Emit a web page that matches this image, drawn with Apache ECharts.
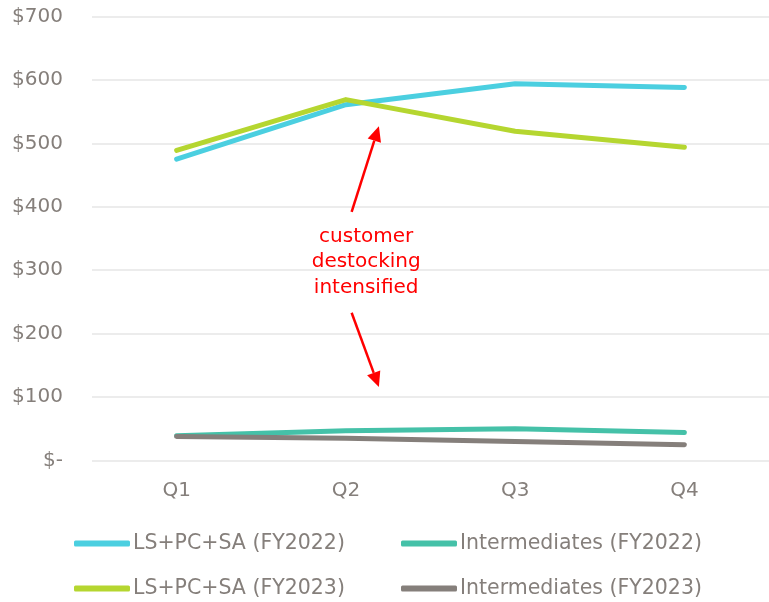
<!DOCTYPE html>
<html><head><meta charset="utf-8">
<script src="https://cdn.jsdelivr.net/npm/echarts@6/dist/echarts.min.js"></script>
<style>html,body{margin:0;padding:0;background:#fff}#c{width:769px;height:602px}</style>
</head><body><div id="c"></div>
<script>
const categories = ['Q1','Q2','Q3','Q4'];
const lsFY2022 = [475, 561, 594, 588];
const lsFY2023 = [489, 569, 519, 494];
const intFY2022 = [39, 47, 50, 44];
const intFY2023 = [38, 35, 30, 25];
const yTicks = [0, 100, 200, 300, 400, 500, 600, 700];
const names = ['LS+PC+SA (FY2022)','Intermediates (FY2022)','LS+PC+SA (FY2023)','Intermediates (FY2023)'];
const colors = ['#4BCFE0','#45C1A8','#B5D630','#857F7B'];
const values = [lsFY2022, intFY2022, lsFY2023, intFY2023];
// annotation anchors in data units [category position, value]
const arrowUp = [[1.034, 392], [1.195, 527]];
const arrowDown = [[1.034, 233], [1.195, 116]];
const noteAt = [1.12, 313];
const note = 'customer\ndestocking\nintensified';

const font = 'DejaVu Sans';
const chart = echarts.init(document.getElementById('c'));
const legendPos = [[74,533],[401,533],[74,578],[401,578]];
chart.setOption({
  animation:false,
  grid:{left:92,right:-4,top:16.5,bottom:141.5},
  xAxis:{type:'category',data:categories,boundaryGap:true,
    axisLine:{show:false},axisTick:{show:false},
    axisLabel:{color:'#857F7B',fontSize:20,fontFamily:font,margin:20}},
  yAxis:{type:'value',min:yTicks[0],max:yTicks[yTicks.length-1],interval:100,
    axisLine:{show:false},axisTick:{show:false},
    splitLine:{lineStyle:{color:'#E6E6E6',width:1.5}},
    axisLabel:{color:'#857F7B',fontSize:20,fontFamily:font,margin:29,
      formatter:v=>v===0?'$-':'$'+v}},
  legend: legendPos.map((p,i)=>({data:[names[i]],left:p[0],top:p[1],
    icon:'roundRect',itemWidth:56,itemHeight:6,itemGap:0,padding:0,
    textStyle:{color:'#857F7B',fontSize:20.5,fontFamily:font,padding:[0,0,0,-2]}})),
  series: names.map((n,i)=>({name:n,type:'line',data:values[i],showSymbol:false,symbol:'none',
    color:colors[i],lineStyle:{width:5,cap:'round',join:'round',color:colors[i]},
    z: i===1||i===3 ? 2 : 3}))
});
function px(p){
  const i0=Math.floor(p[0]), f=p[0]-i0;
  const a=chart.convertToPixel({xAxisIndex:0,yAxisIndex:0},[i0,p[1]]);
  const b=chart.convertToPixel({xAxisIndex:0,yAxisIndex:0},[i0+1,p[1]]);
  return [a[0]+(b[0]-a[0])*f, a[1]];
}
function arrow(a){
  const s=px(a[0]), e=px(a[1]);
  const ang=Math.atan2(e[1]-s[1],e[0]-s[0]);
  const L=15, W=7;
  const bx=e[0]-L*Math.cos(ang), by=e[1]-L*Math.sin(ang);
  const nx=-Math.sin(ang), ny=Math.cos(ang);
  return [
    {type:'line',shape:{x1:s[0],y1:s[1],x2:bx,y2:by},style:{stroke:'#FF0000',lineWidth:2.5}},
    {type:'polygon',shape:{points:[[e[0],e[1]],[bx+nx*W,by+ny*W],[bx-nx*W,by-ny*W]]},style:{fill:'#FF0000'}}
  ];
}
const np=px(noteAt);
chart.setOption({graphic:[...arrow(arrowUp),...arrow(arrowDown),
  {type:'text',x:np[0],y:np[1],style:{text:note,fill:'#FF0000',font:'20px '+font,align:'center',verticalAlign:'middle',lineHeight:25.5}}]});
</script></body></html>
